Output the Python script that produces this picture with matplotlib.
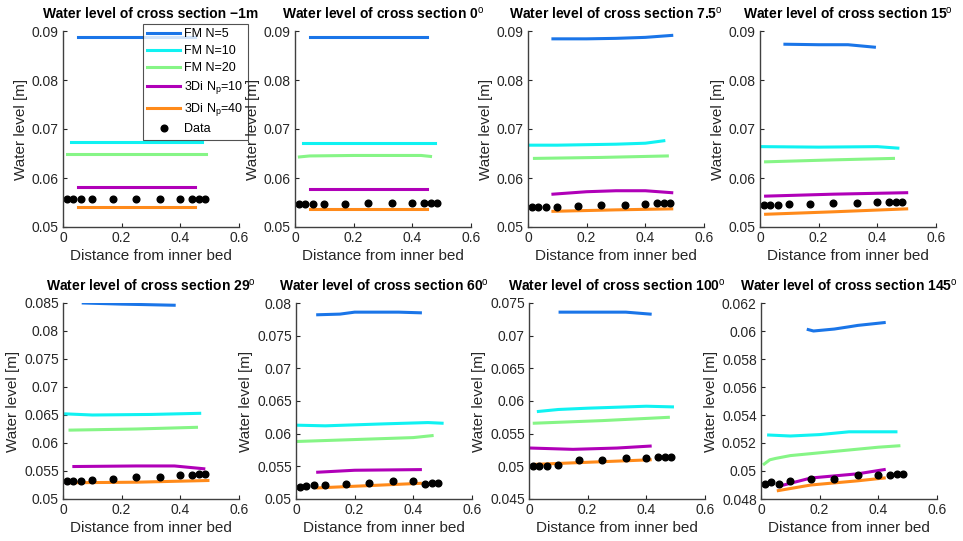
import matplotlib
matplotlib.use("Agg")
import matplotlib.pyplot as plt
from matplotlib.ticker import FuncFormatter

plt.rcParams['font.family'] = ['Liberation Sans', 'DejaVu Sans']
plt.rcParams['mathtext.fontset'] = 'custom'
plt.rcParams['mathtext.rm'] = 'Liberation Sans'
plt.rcParams['mathtext.default'] = 'regular'

titles = ["Water level of cross section \u22121m",
          "Water level of cross section 0$^\\mathrm{o}$",
          "Water level of cross section 7.5$^\\mathrm{o}$",
          "Water level of cross section 15$^\\mathrm{o}$",
          "Water level of cross section 29$^\\mathrm{o}$",
          "Water level of cross section 60$^\\mathrm{o}$",
          "Water level of cross section 100$^\\mathrm{o}$",
          "Water level of cross section 145$^\\mathrm{o}$"]

ylims = [(0.05, 0.09), (0.05, 0.09), (0.05, 0.09), (0.05, 0.09),
         (0.05, 0.085), (0.05, 0.08), (0.045, 0.075), (0.048, 0.062)]
ysteps = [0.01, 0.01, 0.01, 0.01, 0.005, 0.005, 0.005, 0.002]

# FM N=5
fm5_x = [[0.05, 0.45], [0.051, 0.451], [0.085, 0.2, 0.3, 0.4, 0.49],
         [0.085, 0.2, 0.3, 0.39], [0.069, 0.2, 0.379],
         [0.074, 0.15, 0.2, 0.35, 0.424], [0.106, 0.3, 0.33, 0.413],
         [0.161, 0.179, 0.25, 0.3, 0.33, 0.42]]
fm5_y = [[0.0888, 0.0888], [0.0887, 0.0887], [0.0884, 0.0884, 0.0885, 0.0887, 0.0891],
         [0.0873, 0.0872, 0.0872, 0.0867], [0.0850, 0.0848, 0.0846],
         [0.0782, 0.0783, 0.0786, 0.0786, 0.0785], [0.0736, 0.0736, 0.0736, 0.0733],
         [0.0601, 0.0600, 0.06014, 0.0603, 0.0604, 0.0606]]

# FM N=10
fm10_x = [[0.026, 0.475], [0.026, 0.476], [0.008, 0.1, 0.2, 0.3, 0.4, 0.463],
          [0.008, 0.2, 0.4, 0.47], [0.009, 0.1, 0.3, 0.466],
          [0.0, 0.1, 0.3, 0.45, 0.498], [0.032, 0.1, 0.2, 0.4, 0.489],
          [0.026, 0.1, 0.2, 0.3, 0.4, 0.46]]
fm10_y = [[0.0673, 0.0673], [0.0671, 0.0671], [0.0667, 0.0667, 0.0668, 0.0669, 0.0671, 0.0676],
          [0.0664, 0.0663, 0.0664, 0.0661], [0.0652, 0.0650, 0.0651, 0.0653],
          [0.0613, 0.0612, 0.0615, 0.0617, 0.0616], [0.0584, 0.0587, 0.0589, 0.0592, 0.0591],
          [0.05257, 0.0525, 0.0526, 0.0528, 0.0528, 0.0528]]

# FM N=20
fm20_x = [[0.0125, 0.489], [0.015, 0.05, 0.2, 0.35, 0.43, 0.462], [0.022, 0.25, 0.475],
          [0.019, 0.25, 0.455], [0.024, 0.25, 0.455], [0.0, 0.2, 0.4, 0.464],
          [0.018, 0.25, 0.475], [0.011, 0.03, 0.05, 0.1, 0.2, 0.3, 0.4, 0.47]]
fm20_y = [[0.0650, 0.0650], [0.0643, 0.0645, 0.0646, 0.0646, 0.0646, 0.0644],
          [0.0640, 0.0642, 0.0645], [0.0633, 0.0637, 0.0640], [0.0623, 0.0625, 0.0628],
          [0.0588, 0.0591, 0.0594, 0.0597], [0.0566, 0.0570, 0.0575],
          [0.0505, 0.0508, 0.0509, 0.0511, 0.0513, 0.0515, 0.0517, 0.0518]]

# 3Di Np=10
di10_x = [[0.05, 0.45], [0.05, 0.45], [0.085, 0.2, 0.3, 0.4, 0.49], [0.019, 0.25, 0.5],
          [0.037, 0.25, 0.38, 0.48], [0.074, 0.2, 0.424], [0.005, 0.15, 0.3, 0.413],
          [0.059, 0.17, 0.33, 0.42]]
di10_y = [[0.0581, 0.0581], [0.0578, 0.0578], [0.0567, 0.0572, 0.0574, 0.0574, 0.0570],
          [0.0563, 0.0567, 0.0570], [0.0558, 0.0559, 0.0559, 0.0554],
          [0.0541, 0.0544, 0.0545], [0.0528, 0.0526, 0.0528, 0.0531],
          [0.0489, 0.0495, 0.0498, 0.0501]]

# 3Di Np=40
di40_x = [[0.05, 0.45], [0.05, 0.45], [0.085, 0.3, 0.49], [0.019, 0.25, 0.5],
          [0.024, 0.25, 0.494], [0.074, 0.424], [0.02, 0.413],
          [0.059, 0.17, 0.33, 0.42]]
di40_y = [[0.0540, 0.0540], [0.0537, 0.0537], [0.0532, 0.0535, 0.0537],
          [0.0526, 0.0531, 0.0537], [0.0529, 0.0530, 0.0533], [0.0517, 0.0524],
          [0.0503, 0.0510], [0.0486, 0.0490, 0.0493, 0.0495]]

# measurements
data_x = [0.0125, 0.035, 0.06, 0.10, 0.17, 0.25, 0.33, 0.40, 0.44, 0.465, 0.485]
data_y = [[0.0557] * 11,
          [0.0546, 0.0546, 0.0546, 0.0546, 0.0547, 0.0548, 0.0549, 0.0549, 0.0550, 0.0550, 0.0550],
          [0.0540, 0.0540, 0.0540, 0.0540, 0.0542, 0.0545, 0.0545, 0.0547, 0.0548, 0.0548, 0.0549],
          [0.0544, 0.0544, 0.0544, 0.0546, 0.0547, 0.0549, 0.0550, 0.0552, 0.0551, 0.0551, 0.0551],
          [0.0532, 0.0532, 0.0533, 0.0534, 0.0536, 0.0539, 0.0540, 0.0542, 0.0543, 0.0544, 0.0544],
          [0.0519, 0.0520, 0.0521, 0.0521, 0.0523, 0.0525, 0.0527, 0.0527, 0.0523, 0.0524, 0.0524],
          [0.0500, 0.0500, 0.0501, 0.0502, 0.0509, 0.0510, 0.0512, 0.0513, 0.0514, 0.0515, 0.0515],
          [0.0491, 0.0492, 0.0491, 0.0493, 0.0494, 0.0494, 0.0497, 0.0497, 0.0497, 0.0498, 0.0498]]

c_fm5 = '#1A75E8'
c_fm10 = '#10F2F2'
c_fm20 = '#86F586'
c_di10 = '#B000B8'
c_di40 = '#FF8A1A'

W, H = 963, 541
fig = plt.figure(figsize=(W / 100, H / 100), dpi=100)

lefts = [63, 295, 528, 760, 63, 296, 529, 761]
tops = [31, 31, 31, 31, 303, 303, 303, 303]
aw, ah = 176, 196

axes = []
for i in range(8):
    ax = fig.add_axes([lefts[i] / W, 1 - (tops[i] + ah) / H, aw / W, ah / H])
    lw = 2.2
    ax.plot(fm5_x[i], fm5_y[i], color=c_fm5, lw=lw, label='FM N=5')
    ax.plot(fm10_x[i], fm10_y[i], color=c_fm10, lw=lw, label='FM N=10')
    ax.plot(fm20_x[i], fm20_y[i], color=c_fm20, lw=lw, label='FM N=20')
    ax.plot(di10_x[i], di10_y[i], color=c_di10, lw=lw, label='3Di N$_p$=10')
    ax.plot(di40_x[i], di40_y[i], color=c_di40, lw=lw, label='3Di N$_p$=40')
    ax.plot(data_x, data_y[i], 'o', color='black', ms=4.8, label='Data')

    lo, hi = ylims[i]
    ax.set_xlim(0, 0.6)
    ax.set_ylim(lo, hi)
    ax.set_xticks([0, 0.2, 0.4, 0.6])
    n = int(round((hi - lo) / ysteps[i]))
    ax.set_yticks([lo + k * ysteps[i] for k in range(n + 1)])
    ax.xaxis.set_major_formatter(FuncFormatter(lambda v, p: '%g' % round(v, 4)))
    ax.yaxis.set_major_formatter(FuncFormatter(lambda v, p: '%g' % round(v, 4)))

    for s in ['top', 'right']:
        ax.spines[s].set_visible(False)
    for s in ['left', 'bottom']:
        ax.spines[s].set_color('#404040')
        ax.spines[s].set_linewidth(1.0)
    ax.tick_params(direction='in', length=3, width=0.8, colors='#262626',
                   labelsize=10, pad=3)

    ax.set_title(titles[i], fontsize=10, fontweight='bold', pad=9)
    ax.set_xlabel('Distance from inner bed', fontsize=11, color='#262626', labelpad=3)
    ax.set_ylabel('Water level [m]', fontsize=11, color='#262626', labelpad=3)
    axes.append(ax)

leg = axes[0].legend(loc='upper left', bbox_to_anchor=(143 / W, 1 - 24 / H),
                     bbox_transform=fig.transFigure, fontsize=9, frameon=True,
                     fancybox=False, handlelength=2.6, borderpad=0.35,
                     labelspacing=0.4, handletextpad=0.35, borderaxespad=0)
leg.get_frame().set_edgecolor('#262626')
leg.get_frame().set_linewidth(0.8)
leg.set_zorder(10)

fig.savefig('out.png', dpi=100)
